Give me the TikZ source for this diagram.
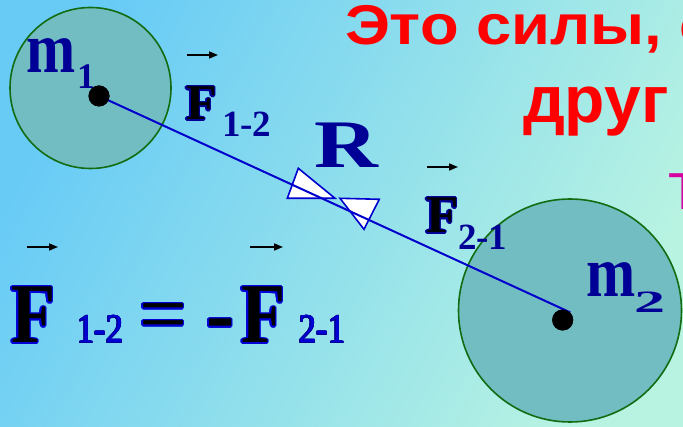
\documentclass[tikz,border=0pt]{standalone}
\usepackage{fontspec}
\setmainfont{Liberation Serif}
\newfontfamily\arialf{Liberation Sans}
\usepackage{graphicx}
\usepackage[copies]{contour}
\contourlength{1.1pt}
\usetikzlibrary{arrows.meta}
\definecolor{bgA}{RGB}{104,203,246}
\definecolor{bgB}{RGB}{184,243,226}
\definecolor{ballfill}{RGB}{113,189,194}
\definecolor{balledge}{RGB}{18,108,18}
\definecolor{navy}{RGB}{0,0,150}
\definecolor{eqblue}{RGB}{0,0,215}
\definecolor{redtxt}{RGB}{255,0,0}
\definecolor{magtxt}{RGB}{215,0,160}
\newcommand{\fsz}[1]{\fontsize{#1}{#1}\selectfont}
\newcommand{\thinout}[2]{{\contourlength{0.5pt}\contour{#1}{#2}}}
\tikzset{
  ball/.style={circle, draw=balledge, line width=1.6pt, fill=ballfill, inner sep=0pt},
  massdot/.style={circle, fill=black, inner sep=0pt, minimum size=21pt},
  rline/.style={draw=blue!80!black, line width=2pt},
  tri/.style={draw=blue!80!black, line width=1.6pt, fill=white, line join=miter},
  lbl/.style={anchor=base west, inner sep=0pt, outer sep=0pt},
  vec/.style={line width=1.6pt, -{Triangle[length=9pt,width=7pt]}},
}
\begin{document}
\begin{tikzpicture}[x=1pt,y=-1pt]
\useasboundingbox (0,0) rectangle (683,427);
\clip (0,0) rectangle (683,427);
\shade[top color=bgA, bottom color=bgB, shading angle=62] (-5,-5) rectangle (688,432);
% balls
\node[ball, minimum size=161pt] (b1) at (90.5,88) {};
\node[ball, minimum size=223pt] (b2) at (570,310.5) {};
% triangles of R
\draw[tri] (298.3,168.3) -- (287.3,198.3) -- (335,198.3) -- cycle;
\draw[tri] (340,198.3) -- (379.3,199.3) -- (364,229.3) -- cycle;
% centres and line
\node[massdot] (d1) at (99,96) {};
\node[massdot] (d2) at (562.7,320) {};
\draw[rline] (d1.center) -- (d2.north east);
\node[massdot] at (d1) {};
\node[massdot] at (d2) {};
% title text
\node[lbl, text=redtxt, font=\arialf\bfseries\fsz{56}] (t1) at (345,45) {\scalebox{1.13}[1]{Это силы, с}};
\node[lbl, text=redtxt, font=\arialf\bfseries\fsz{66}] (t2) at (523,123) {друг};
\node[lbl, text=magtxt, font=\arialf\fsz{52}] (t3) at (668,210) {Т};
% masses
\node[lbl, text=navy, font=\bfseries\fsz{72}] (m1) at (26,73) {\scalebox{0.82}[1]{m}};
\node[lbl, text=navy, font=\bfseries\fsz{36}] (m1s) at (77,89) {1};
\node[lbl, text=navy, font=\bfseries\fsz{72}] (m2) at (586,297) {\scalebox{0.82}[1]{m}};
\node[lbl, text=navy, font=\bfseries\fsz{31}] (m2s) at (634,313) {\scalebox{2.0}[1]{2}};
% R
\node[lbl, text=navy, font=\bfseries\fsz{68}] (R) at (314,168) {\scalebox{1.3}[1]{R}};
% force labels
\node[lbl, text=black, font=\bfseries\fsz{50}] (f12) at (186,120) {\contour{navy}{F}};
\node[lbl, text=navy, font=\bfseries\fsz{37}] (f12s) at (222,137) {1-2};
\draw[vec] (187,55) -- (218,55);
\node[lbl, text=black, font=\bfseries\fsz{53}] (f21) at (426,233) {\contour{navy}{F}};
\node[lbl, text=navy, font=\bfseries\fsz{37}] (f21s) at (458,250) {2-1};
\draw[vec] (427,167) -- (458,167);
% equation
\node[lbl, text=black, font=\bfseries\fsz{85}] (e1) at (11,343) {\contour{eqblue}{\scalebox{0.85}[1]{F}}};
\node[lbl, text=eqblue, font=\fsz{41}] (e1s) at (77,343) {\thinout{navy}{\scalebox{0.85}[1]{1-2}}};
\node[lbl, text=black, font=\fsz{85}] (eq) at (139,343) {\contour{eqblue}{=}};
\node[lbl, text=black, font=\bfseries\fsz{85}] (mi) at (206,343) {\contour{eqblue}{-}};
\node[lbl, text=black, font=\bfseries\fsz{85}] (e2) at (241,343) {\contour{eqblue}{\scalebox{0.85}[1]{F}}};
\node[lbl, text=eqblue, font=\fsz{41}] (e2s) at (299,343) {\thinout{navy}{\scalebox{0.85}[1]{2-1}}};
\draw[vec] (27,247) -- (58,247);
\draw[vec] (250,247) -- (283,247);
\end{tikzpicture}
\end{document}
